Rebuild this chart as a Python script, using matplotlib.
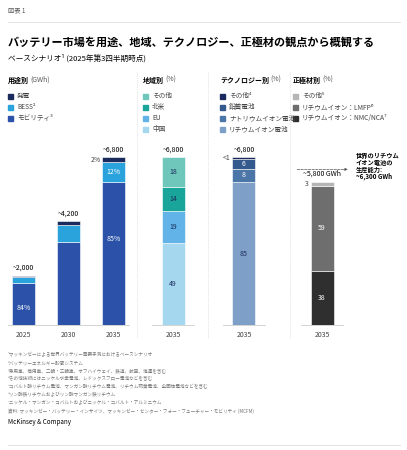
import matplotlib
matplotlib.use("Agg")
from matplotlib import pyplot as plt

plt.rcParams['font.family'] = ['Noto Sans CJK JP', 'DejaVu Sans']

W, H = 407, 450

# 用途別
years = ['2025', '2030', '2035']
use_totals = [2000, 4200, 6800]
use_labels = ['発電', 'BESS²', 'モビリティ³']
mobility = [84, 80, 85]
bess = [13, 16, 12]
power = [3, 4, 2]
use_colors = ['#1b2a5c', '#2aa3dc', '#2b52a8']

# 地域別
region_labels = ['その他', '北米', 'EU', '中国']
region_vals = [49, 19, 14, 18]   # bottom -> top: 中国, EU, 北米, その他
region_colors = ['#a5d8ef', '#62b4e8', '#1aa59a', '#6fc6bb']

# テクノロジー別
tech_labels = ['その他⁴', '鉛蓄電池', 'ナトリウムイオン電池', 'リチウムイオン電池']
tech_vals = [85, 8, 6, 1]        # bottom -> top
tech_text = ['85', '8', '6', '<1']
tech_colors = ['#7ea0c8', '#4d76a8', '#34598c', '#1b2a5c']

# 正極材別
cath_labels = ['その他⁵', 'リチウムイオン：LMFP⁶', 'リチウムイオン：NMC/NCA⁷']
cath_vals = [38, 59, 3]          # bottom -> top
cath_colors = ['#2f2f2f', '#6e6e6e', '#b5b5b5']
cath_total = 5800

fig = plt.figure(figsize=(W / 100, H / 100), dpi=100)

def px(x, y):
    return x / W, 1 - y / H

def txt(x, y, s, **kw):
    fig.text(x / W, 1 - y / H, s, **kw)

base_y, top_y = 325, 157
ymax = 6800

def make_ax(center, width_px, half=0.6):
    # bar width 0.5 in data units ~ 23 px
    scale = 46.0
    left = center - half * scale
    ax = fig.add_axes([left / W, (H - base_y) / H, 2 * half * scale / W, (base_y - top_y) / H])
    ax.set_xlim(-half, half)
    ax.set_ylim(0, ymax)
    ax.axis('off')
    return ax

# header
txt(8, 10, '図表 1', fontsize=4.5, color='#555555', va='center')
fig.add_artist(plt.Line2D([8 / W, 400 / W], [1 - 22 / H] * 2, color='#dddddd', lw=0.6))
txt(8, 42, 'バッテリー市場を用途、地域、テクノロジー、正極材の観点から概観する',
    fontsize=8, fontweight='bold', va='center')
txt(8, 58, 'ベースシナリオ¹ (2025年第3四半期時点)', fontsize=5.5, va='center')

# panel 1
scale = 45.0
ax1 = fig.add_axes([5.5 / W, (H - base_y) / H, 2.8 * scale / W, (base_y - top_y) / H])
ax1.set_xlim(-0.4, 2.4)
ax1.set_ylim(0, ymax)
ax1.axis('off')
xs = range(len(years))
m = [t * p / 100 for t, p in zip(use_totals, mobility)]
b = [t * p / 100 for t, p in zip(use_totals, bess)]
pw = [t - a - c for t, a, c in zip(use_totals, m, b)]
ax1.bar(xs, m, 0.51, color=use_colors[2], edgecolor='white', lw=0.4)
ax1.bar(xs, b, 0.51, bottom=m, color=use_colors[1], edgecolor='white', lw=0.4)
ax1.bar(xs, pw, 0.51, bottom=[i + j for i, j in zip(m, b)], color=use_colors[0], edgecolor='white', lw=0.4)
ax1.plot([-0.35, 2.35], [0, 0], color='#cccccc', lw=0.6, clip_on=False)
for i, t in enumerate(use_totals):
    ax1.text(i, t + 150, '~{:,}'.format(t), ha='center', va='bottom', fontsize=5)
    ax1.text(i, -250, years[i], ha='center', va='top', fontsize=5, color='#444444')
ax1.text(0, m[0] * 0.4, '84%', ha='center', va='center', fontsize=5, color='white')
ax1.text(2, m[2] * 0.6, '85%', ha='center', va='center', fontsize=5, color='white')
ax1.text(2, m[2] + b[2] / 2, '12%', ha='center', va='center', fontsize=5, color='white')
ax1.text(1.72, m[2] + b[2] + pw[2] / 2, '2%', ha='right', va='center', fontsize=5, color='#444444')

def stack(ax, vals, colors, total, texts, tcolors):
    bottom = 0
    for v, c, s, tc in zip(vals, colors, texts, tcolors):
        h = total * v / sum(vals)
        ax.bar(0, h, 0.5, bottom=bottom, color=c, edgecolor='white', lw=0.4)
        if s is not None:
            ax.text(0, bottom + h / 2, s, ha='center', va='center', fontsize=5, color=tc)
        bottom += h
    ax.plot([-0.45, 0.45], [0, 0], color='#cccccc', lw=0.6, clip_on=False)
    ax.text(0, -250, '2035', ha='center', va='top', fontsize=5, color='#444444')

ax2 = make_ax(173, 56)
stack(ax2, region_vals, region_colors, 6800, [str(v) for v in region_vals], ['#1b2a5c'] * 4)
ax2.text(0, 6950, '~6,800', ha='center', va='bottom', fontsize=5)

ax3 = make_ax(244, 56)
stack(ax3, tech_vals, tech_colors, 6800, tech_text[:3] + [None], ['#1b2a5c', 'white', 'white', 'white'])
ax3.text(0, 6950, '~6,800', ha='center', va='bottom', fontsize=5)
ax3.text(-0.3, 6750, tech_text[3], ha='right', va='center', fontsize=5, color='#444444')

ax4 = make_ax(322, 56)
stack(ax4, cath_vals, cath_colors, cath_total, ['38', '59', None], ['white', 'white', 'white'])
ax4.text(0, cath_total + 150, '~5,800 GWh', ha='center', va='bottom', fontsize=5)
ax4.text(-0.3, cath_total - 80, '3', ha='right', va='center', fontsize=5, color='#444444')
ax4.annotate('', xy=(0.62, 6300), xytext=(-0.6, 6300),
             arrowprops=dict(arrowstyle='-|>', ls='--', lw=0.5, color='#555555', mutation_scale=4),
             annotation_clip=False)
txt(356, 166, '世界のリチウム\nイオン電池の\n生産能力:\n~6,300 GWh', fontsize=4.5,
    fontweight='bold', va='center', linespacing=1.0)

# dividers
for x in [137, 208, 290]:
    fig.add_artist(plt.Line2D([x / W] * 2, [1 - 72 / H, 1 - 338 / H], color='#cccccc', lw=0.5, ls=':'))

# legends
heads = [(8, '用途別', '(GWh)'), (143, '地域別', '(%)'), (220, 'テクノロジー別', '(%)'), (293, '正極材別', '(%)')]
for x, h, u in heads:
    t = fig.text(x / W, 1 - 80 / H, h, fontsize=5, fontweight='bold', va='center')
    fig.canvas.draw()
    bb = t.get_window_extent()
    fig.text(bb.x1 / W + 0.004, 1 - 80 / H, u, fontsize=5, color='#555555', va='center')

legends = [(8, use_labels, use_colors),
           (143, region_labels, region_colors[::-1]),
           (220, tech_labels, tech_colors[::-1]),
           (293, cath_labels, cath_colors[::-1])]
for x, labels, colors in legends:
    for i, (l, c) in enumerate(zip(labels, colors)):
        y = 96 + 11 * i
        fig.add_artist(plt.Rectangle(((x) / W, 1 - (y + 2.5) / H), 5 / W, 5 / H, color=c))
        txt(x + 9, y, l, fontsize=4.8, color='#444444', va='center')

notes = ['¹マッキンゼーによる世界バッテリー需要予測におけるベースシナリオ',
         '²バッテリーエネルギー貯蔵システム',
         '³乗用車、商用車、二輪・三輪車、オフハイウェイ、鉄道、航空、海運を含む',
         '⁴その他技術にはニッケル水素電池、レドックスフロー電池などを含む',
         '⁵コバルト酸リチウム電池、マンガン酸リチウム電池、リチウム硫黄電池、全固体電池などを含む',
         '⁶リン酸鉄リチウムおよびリン酸マンガン鉄リチウム',
         '⁷ニッケル・マンガン・コバルトおよびニッケル・コバルト・アルミニウム']
for i, n in enumerate(notes):
    txt(8, 355 + 8 * i, n, fontsize=3.3, color='#777777', va='center')
txt(8, 411, '資料: マッキンゼー・バッテリー・インサイツ、マッキンゼー・センター・フォー・フューチャー・モビリティ (MCFM)',
    fontsize=3.3, color='#777777', va='center')
txt(8, 422, 'McKinsey & Company', fontsize=4.5, va='center')
fig.add_artist(plt.Line2D([8 / W, 400 / W], [1 - 445 / H] * 2, color='#dddddd', lw=0.6))

fig.savefig('out.png', dpi=100)
